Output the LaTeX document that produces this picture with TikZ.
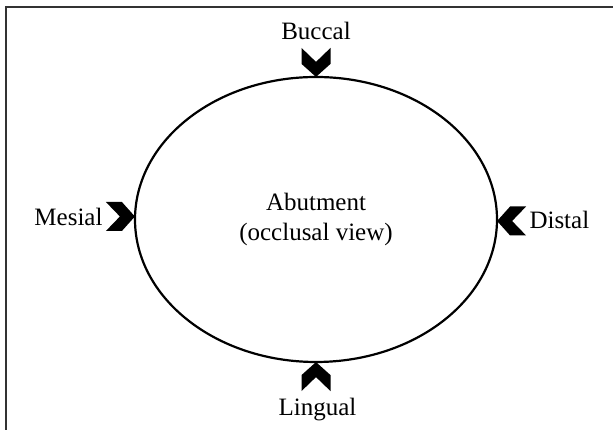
\documentclass[tikz,border=0pt]{standalone}
\usepackage{fontspec}
\setmainfont{Liberation Serif}
\usetikzlibrary{shapes.geometric}
\tikzset{
	side/.style={font=\fontsize{25}{30}\selectfont, inner sep=0pt, anchor=base},
	chevron/.style={fill=black, draw=none}
}

\begin{document}
\begin{tikzpicture}[x=1pt, y=1pt]
        \useasboundingbox (0, 0) rectangle (613, 430);
        \draw[line width=1.5pt, black!80] (6, 0) -- (6, 423) -- (613, 423);
        \node[draw, ellipse, line width=2.2pt, minimum width=362pt, minimum height=285pt, align=center, font=\fontsize{25}{30}\selectfont] (abut) at (316, 210.5) {Abutment\\(occlusal view)};
        \foreach \side/\turn/\dy in {north/0/0, south/180/0, west/90/3, east/-90/-1.5}
            \fill[chevron, shift={([yshift=\dy pt]abut.\side)}, rotate=\turn] (-14.5, 28) -- (0, 14) -- (14.5, 28) -- (14.5, 12) -- (0, -1) -- (-14.5, 12) -- cycle;
        \node[side] (buccal) at (316, 390.7) {Buccal};
        \node[side] (lingual) at (317.5, 14) {Lingual};
        \node[side, anchor=base east] (mesial) at (102.7, 204.3) {Mesial};
        \node[side, anchor=base west] (distal) at (529.3, 201.7) {Distal};
    \end{tikzpicture}
\end{document}
